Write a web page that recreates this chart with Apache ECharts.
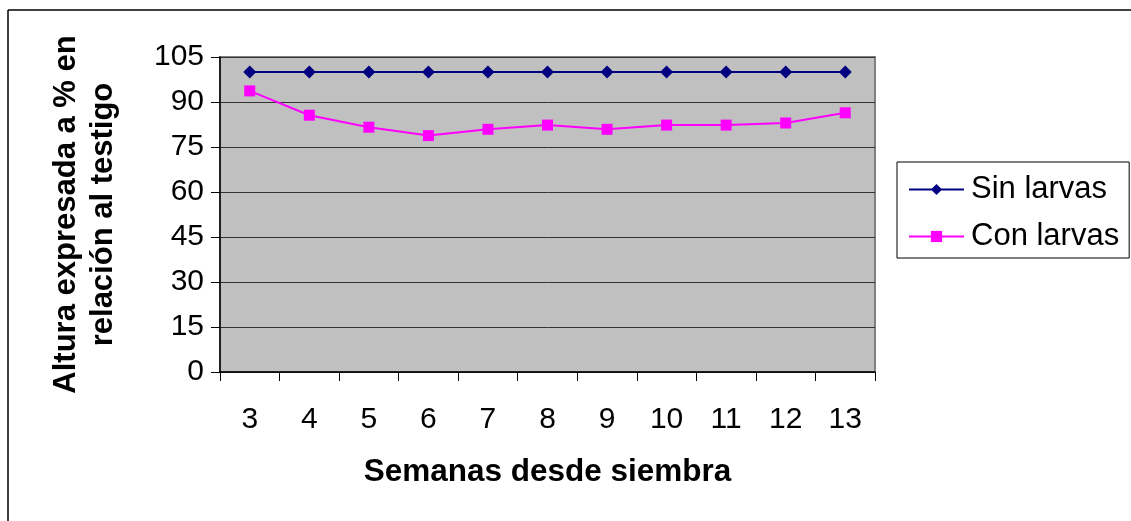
<!DOCTYPE html>
<html>
<head>
<meta charset="utf-8">
<script src="https://cdn.jsdelivr.net/npm/echarts@6/dist/echarts.min.js"></script>
<style>
  html, body { margin: 0; padding: 0; background: #ffffff; }
  #chart { width: 1131px; height: 521px; }
</style>
</head>
<body>
<div id="chart"></div>
<script>
// Semanas desde siembra
const semanas = ['3', '4', '5', '6', '7', '8', '9', '10', '11', '12', '13'];
// Altura (% del testigo)
const sinLarvas = [100, 100, 100, 100, 100, 100, 100, 100, 100, 100, 100];
const conLarvas = [93.7, 85.6, 81.6, 78.8, 80.9, 82.3, 80.9, 82.3, 82.3, 83.0, 86.4];
const yTicks = { min: 0, max: 105, interval: 15 };

const FONT = '"Liberation Sans", Arial, sans-serif';

const chart = echarts.init(document.getElementById('chart'), null, { renderer: 'canvas' });

chart.setOption({
  backgroundColor: '#ffffff',
  animation: false,
  textStyle: { fontFamily: FONT, color: '#000' },
  grid: {
    left: 220, top: 57, width: 655, height: 315,
    show: true,
    backgroundColor: '#c0c0c0',
    borderColor: '#808080',
    borderWidth: 2
  },
  legend: {
    orient: 'vertical',
    left: 897, top: 162,
    padding: [12, 10, 6, 11],
    itemWidth: 55, itemHeight: 14, itemGap: 16,
    borderColor: '#000', borderWidth: 1,
    backgroundColor: '#fff',
    textStyle: { fontFamily: FONT, fontSize: 31, color: '#000', padding: [0, 0, 0, 2] },
    data: ['Sin larvas', 'Con larvas']
  },
  xAxis: {
    type: 'category',
    data: semanas,
    boundaryGap: true,
    name: 'Semanas desde siembra',
    nameLocation: 'middle',
    nameGap: 84,
    nameTextStyle: { fontFamily: FONT, fontSize: 31.5, fontWeight: 'bold', color: '#000' },
    axisLine: { lineStyle: { color: '#000', width: 1.5 } },
    axisTick: { show: true, inside: false, length: 9, alignWithLabel: false, lineStyle: { color: '#000', width: 1 } },
    axisLabel: { fontFamily: FONT, fontSize: 30, color: '#000', margin: 33, interval: 0 },
    splitLine: { show: false }
  },
  yAxis: {
    type: 'value',
    min: yTicks.min, max: yTicks.max, interval: yTicks.interval,
    name: 'Altura expresada a % en\nrelación al testigo',
    nameLocation: 'middle',
    nameRotate: 90,
    nameGap: 98,
    nameTextStyle: { fontFamily: FONT, fontSize: 31, fontWeight: 'bold', color: '#000', lineHeight: 37, align: 'center' },
    axisLine: { show: true, lineStyle: { color: '#000', width: 1.5 } },
    axisTick: { show: true, inside: false, length: 9, lineStyle: { color: '#000', width: 1 } },
    axisLabel: { fontFamily: FONT, fontSize: 30, color: '#000', margin: 16 },
    splitLine: { show: true, lineStyle: { color: '#333', width: 1 } }
  },
  series: [
    {
      name: 'Sin larvas',
      type: 'line',
      data: sinLarvas,
      symbol: 'diamond',
      symbolSize: 13,
      color: '#000080',
      lineStyle: { color: '#000080', width: 2 },
      itemStyle: { color: '#000080' },
      z: 3
    },
    {
      name: 'Con larvas',
      type: 'line',
      data: conLarvas,
      symbol: 'rect',
      symbolSize: 11,
      color: '#ff00ff',
      lineStyle: { color: '#ff00ff', width: 2 },
      itemStyle: { color: '#ff00ff' },
      z: 4
    }
  ],
  graphic: [
    { type: 'line', shape: { x1: 8, y1: 10, x2: 1131, y2: 10 }, style: { stroke: '#000', lineWidth: 1.5 } },
    { type: 'line', shape: { x1: 8, y1: 10, x2: 8, y2: 521 }, style: { stroke: '#000', lineWidth: 1.5 } }
  ]
});
</script>
</body>
</html>
